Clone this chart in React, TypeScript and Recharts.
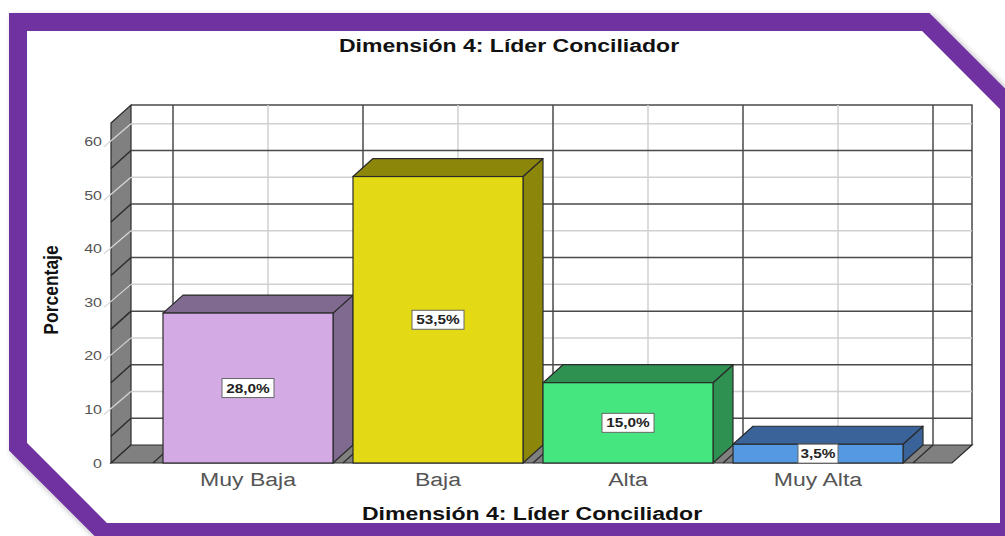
import { BarChart, Bar, XAxis, YAxis, CartesianGrid, LabelList } from 'recharts';

// data
const categories = ['Muy Baja', 'Baja', 'Alta', 'Muy Alta'];
const percentages = [28.0, 53.5, 15.0, 3.5];
const yTicks = [0, 5, 10, 15, 20, 25, 30, 35, 40, 45, 50, 55, 60];
const lightLines = [10, 20, 30, 40, 50, 60];
const darkLines = [5, 15, 25, 35, 45, 55];
const yMax = 63.5;

const frontColors = ['#D4AAE5', '#E3D914', '#45E67F', '#5599E3'];
const shadeColors = ['#806A8F', '#8C860A', '#2E9152', '#3A6499'];

const W = 1005;
const H = 536;
const DX = 20;
const DY = 18;
const PLOT = { left: 111, top: 123, right: 952, bottom: 463 };
const PAD_L = 42;
const PAD_R = 39;
const FONT = '"Liberation Sans", Arial, sans-serif';
const STRETCH = 1.28;

const rows = categories.map((c, i) => ({ name: c, value: percentages[i] }));

// back wall of the 3D box = the front axes pushed back by (DX, -DY)
const plotW = PLOT.right - PLOT.left;
const plotH = PLOT.bottom - PLOT.top;
const band = (plotW - PAD_L - PAD_R) / categories.length;
const backShiftY = (DY / plotH) * yMax;
const bounds = categories.map((_, i) => PLOT.left + PAD_L + i * band).concat(PLOT.left + PAD_L + categories.length * band);
const centers = categories.map((_, i) => PLOT.left + PAD_L + (i + 0.5) * band);

const Bar3D = (p: any) => {
  const { x, y, width: w, height: h, index } = p;
  const front = frontColors[index % frontColors.length];
  const shade = shadeColors[index % shadeColors.length];
  const top = `${x},${y} ${x + DX},${y - DY} ${x + w + DX},${y - DY} ${x + w},${y}`;
  const side = `${x + w},${y} ${x + w + DX},${y - DY} ${x + w + DX},${y + h - DY} ${x + w},${y + h}`;
  return (
    <g>
      <polygon points={side} fill={shade} stroke="#2a2a2a" strokeWidth={1.2} strokeLinejoin="round" />
      <polygon points={top} fill={shade} stroke="#2a2a2a" strokeWidth={1.2} strokeLinejoin="round" />
      <rect x={x} y={y} width={w} height={h} fill={front} stroke="#2a2a2a" strokeWidth={1.2} />
    </g>
  );
};

const ValueBox = (p: any) => {
  const { x, y, width, height, value } = p;
  const cx = x + width / 2;
  const cy = y + height / 2;
  const txt = Number(value).toFixed(1).replace('.', ',') + '%';
  const bwid = txt.length * 12 - 8;
  return (
    <g>
      <rect x={cx - bwid / 2} y={cy - 9.5} width={bwid} height={19} fill="#fff" stroke="#666" strokeWidth={1} />
      <g transform={`translate(${cx},${cy + 4.5}) scale(${STRETCH},1)`}>
        <text textAnchor="middle" fontSize={12} fontWeight="bold" fill="#222" fontFamily={FONT}>
          {txt}
        </text>
      </g>
    </g>
  );
};

const YTick = (p: any) => {
  const { x, y, payload } = p;
  const v = payload.value;
  const wx = PLOT.left;
  if (v % 10 !== 0) {
    return <line x1={wx} y1={y} x2={wx + DX} y2={y - DY} stroke="#2a2a2a" strokeWidth={1.4} />;
  }
  return (
    <g>
      {v > 0 && <line x1={wx - 7} y1={y + 5} x2={wx + DX} y2={y - DY} stroke="#d8d8d8" strokeWidth={1.2} />}
      <g transform={`translate(${x - 1},${y + 4.5}) scale(${STRETCH},1)`}>
        <text textAnchor="end" fontSize={12.5} fill="#555" fontFamily={FONT}>
          {v}
        </text>
      </g>
    </g>
  );
};

const XTick = (p: any) => {
  const { x, y, payload } = p;
  return (
    <g transform={`translate(${x},${y + 15}) scale(${STRETCH},1)`}>
      <text textAnchor="middle" fontSize={18} fill="#555" fontFamily={FONT}>
        {payload.value}
      </text>
    </g>
  );
};

const YLabel = (p: any) => {
  const vb = p.viewBox || { x: 51, y: PLOT.top, width: 60, height: plotH };
  const cy = vb.y + vb.height / 2 - 3;
  return (
    <g transform={`translate(58,${cy}) rotate(-90) scale(1,1.2)`}>
      <text textAnchor="middle" fontSize={17.5} fontWeight="bold" fill="#111" fontFamily={FONT}>
        Porcentaje
      </text>
    </g>
  );
};

export default function App() {
  const fy = PLOT.bottom;
  const by = PLOT.bottom - DY;
  const bl = PLOT.left + DX;
  const br = PLOT.right + DX;
  const bt = PLOT.top - DY;

  return (
    <div style={{ position: 'absolute', left: 0, top: 0, width: W, height: H, background: '#fff' }}>
      <svg width={W} height={H} style={{ position: 'absolute', left: 0, top: 0 }}>
        <defs>
          <filter id="frameShadow" x="-5%" y="-5%" width="110%" height="110%">
            <feDropShadow dx="3" dy="3" stdDeviation="3" floodColor="#000" floodOpacity="0.35" />
          </filter>
        </defs>
        <polygon
          points="18,22 925.7,22 1009,105.3 1009,532 103.3,532 18,446.7"
          fill="#fff"
          stroke="#7030A0"
          strokeWidth={18}
          filter="url(#frameShadow)"
        />
        <g transform={`translate(509,52) scale(${STRETCH},1)`}>
          <text textAnchor="middle" fontSize={18} fontWeight="bold" fill="#111" fontFamily={FONT}>
            Dimensión 4: Líder Conciliador
          </text>
        </g>
        <g transform={`translate(532,520) scale(${STRETCH},1)`}>
          <text textAnchor="middle" fontSize={18} fontWeight="bold" fill="#111" fontFamily={FONT}>
            Dimensión 4: Líder Conciliador
          </text>
        </g>
        {/* back wall outline */}
        <polyline points={`${bl},${bt} ${br},${bt} ${br},${by}`} fill="none" stroke="#4a4a4a" strokeWidth={1.5} />
        {/* side wall */}
        <polygon
          points={`${PLOT.left},${PLOT.top} ${bl},${bt} ${bl},${by} ${PLOT.left},${fy}`}
          fill="#808080"
          stroke="#2a2a2a"
          strokeWidth={1.2}
        />
        {/* floor */}
        <polygon
          points={`${PLOT.left},${fy} ${PLOT.right},${fy} ${br},${by} ${bl},${by}`}
          fill="#808080"
          stroke="#2a2a2a"
          strokeWidth={1.2}
        />
        {bounds.map((bx, i) => (
          <line key={i} x1={bx} y1={fy} x2={bx + DX} y2={by} stroke="#2a2a2a" strokeWidth={1.2} />
        ))}
      </svg>
      <div style={{ position: 'absolute', left: 0, top: 0 }}>
        <BarChart
          width={W}
          height={H}
          data={rows}
          margin={{ top: PLOT.top, right: W - PLOT.right, bottom: H - PLOT.bottom - 30, left: PLOT.left - 60 }}
        >
          <YAxis yAxisId="back" type="number" domain={[-backShiftY, yMax - backShiftY]} allowDataOverflow hide />
          <CartesianGrid
            yAxisId="back"
            x={bl}
            y={bt}
            width={plotW}
            height={plotH}
            stroke="#d0d0d0"
            strokeWidth={1.5}
            horizontalValues={lightLines}
            verticalPoints={centers.map((c) => c + DX)}
          />
          <CartesianGrid
            yAxisId="back"
            x={bl}
            y={bt}
            width={plotW}
            height={plotH}
            stroke="#4a4a4a"
            strokeWidth={1.5}
            horizontalValues={darkLines}
            verticalPoints={bounds.map((b) => b + DX)}
          />
          <XAxis
            dataKey="name"
            type="category"
            axisLine={false}
            tickLine={false}
            padding={{ left: PAD_L, right: PAD_R }}
            tick={<XTick />}
            interval={0}
          />
          <YAxis
            type="number"
            domain={[0, yMax]}
            ticks={yTicks}
            interval={0}
            width={60}
            axisLine={false}
            tickLine={false}
            tick={<YTick />}
            label={{ content: <YLabel /> }}
          />
          <Bar dataKey="value" barSize={170} shape={<Bar3D />} isAnimationActive={false}>
            <LabelList dataKey="value" content={<ValueBox />} />
          </Bar>
        </BarChart>
      </div>
    </div>
  );
}
